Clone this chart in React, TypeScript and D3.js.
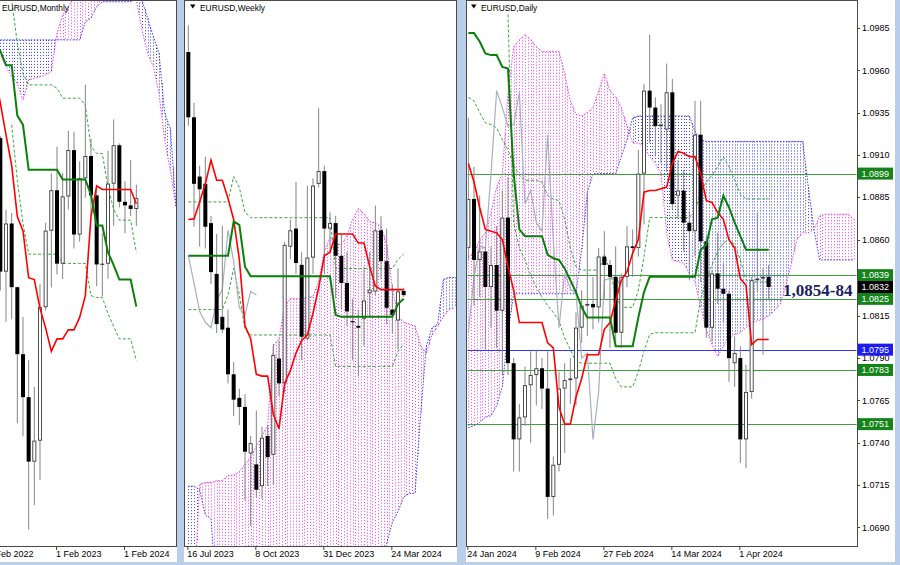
import React from "react";
import * as d3 from "d3";

// ================= MONTHLY (index 0 = Apr 2022) =================
const monthlyDates = [
  { i: -2, label: "1 Feb 2022" },
  { i: 10, label: "1 Feb 2023" },
  { i: 22, label: "1 Feb 2024" },
];
const monthlyCandles = [
  [1.1067, 1.1076, 1.0471, 1.0545], [1.0545, 1.0787, 1.0349, 1.0733], [1.0733, 1.0774, 1.0359, 1.0484],
  [1.0484, 1.0486, 0.9952, 1.0222], [1.0222, 1.0368, 0.9901, 1.0054], [1.0054, 1.0198, 0.9536, 0.9802],
  [0.9802, 1.0094, 0.9632, 0.9884], [0.9884, 1.0497, 0.973, 1.0406], [1.0406, 1.0736, 1.0393, 1.0705],
  [1.0705, 1.0929, 1.0483, 1.0863], [1.0863, 1.1033, 1.0533, 1.0576], [1.0576, 1.093, 1.0516, 1.0839],
  [1.0839, 1.1095, 1.0788, 1.102], [1.102, 1.1092, 1.0635, 1.069], [1.069, 1.0976, 1.0662, 1.091],
  [1.091, 1.1276, 1.0834, 1.0997], [1.0997, 1.1065, 1.0765, 1.0843], [1.0843, 1.0882, 1.0488, 1.0573],
  [1.0573, 1.0695, 1.0448, 1.0576], [1.0576, 1.1017, 1.0517, 1.0889], [1.0889, 1.114, 1.0724, 1.1039],
  [1.1039, 1.1046, 1.0796, 1.0818], [1.0818, 1.0898, 1.0695, 1.0804], [1.0804, 1.0981, 1.0762, 1.079],
  [1.079, 1.0885, 1.0723, 1.0832],
];
const monthlyTenkan = [ // from index -1
  1.1323, 1.1204, 1.108, 1.096, 1.076, 1.0704, 1.0521, 1.0514, 1.0401, 1.0324, 1.0233, 1.0282, 1.0282,
  1.0317, 1.0317, 1.0366, 1.0451, 1.076, 1.088, 1.0866, 1.0866, 1.0866, 1.0866, 1.0866, 1.0866, 1.081,
];
const monthlyKijun = [ // from index -1
  1.1436, 1.1408, 1.1352, 1.1352, 1.1155, 1.1119, 1.0943, 1.0943, 1.0943, 1.0943, 1.0943, 1.0943,
  1.0905, 1.0905, 1.0905, 1.0905, 1.0905, 1.0845, 1.0725, 1.0725, 1.062, 1.057, 1.0514, 1.0514, 1.0514, 1.0408,
];
const monthlySpanA = [ // from index -1
  1.1411, 1.1392, 1.1346, 1.1307, 1.1281, 1.1216, 1.1294, 1.1301, 1.1307, 1.1314, 1.1327, 1.1477, 1.1548,
  1.1581, 1.162, 1.1646, 1.1659, 1.1672, 1.1672, 1.1672, 1.1672, 1.1672, 1.1672, 1.1672, 1.1672,
  1.1607, 1.149, 1.1398, 1.1346, 1.1242, 1.106, 1.0942, 1.0799,
];
const monthlySpanB = [ // from index -1
  1.1451, 1.1451, 1.1451, 1.1451, 1.1451, 1.1451, 1.1451, 1.1451, 1.1451, 1.1451, 1.1451, 1.1451, 1.1451,
  1.1451, 1.1451, 1.1451, 1.1522, 1.1535, 1.1581, 1.16, 1.16, 1.16, 1.16, 1.16, 1.16,
  1.1633, 1.1607, 1.1535, 1.1464, 1.1398, 1.1164, 1.1105, 1.0799,
];
const monthlyDashUpper = [ // from index 1
  1.175, 1.1607, 1.1438, 1.132, 1.1275, 1.1275, 1.1275, 1.1275, 1.1275, 1.1262, 1.1223, 1.1223, 1.1223,
  1.1223, 1.1196, 1.1034, 1.1007, 1.1007, 1.0873, 1.0789, 1.0746, 1.0746, 1.0746, 1.062,
];
const monthlyDashLower = [ // from index 2
  1.1119, 1.0901, 1.0732, 1.0613, 1.0613, 1.0613, 1.0613, 1.0613, 1.0613, 1.0577, 1.0577, 1.0577, 1.0577,
  1.0577, 1.0451, 1.0444, 1.0444, 1.038, 1.0331, 1.0282, 1.0282, 1.0282, 1.0197,
];

// ================= WEEKLY (index 0 = 16 Jul 2023) =================
const weeklyDates = [
  { i: 0, label: "16 Jul 2023" },
  { i: 12, label: "8 Oct 2023" },
  { i: 24, label: "31 Dec 2023" },
  { i: 36, label: "24 Mar 2024" },
];
const weeklyCandles = [
  [1.1232, 1.1276, 1.111, 1.1124], [1.1124, 1.1148, 1.0943, 1.1014], [1.1026, 1.1044, 1.091, 1.1005],
  [1.1014, 1.1059, 1.0907, 1.0943], [1.0949, 1.0961, 1.0848, 1.0868], [1.0865, 1.0931, 1.0767, 1.0782],
  [1.0794, 1.0945, 1.0767, 1.0773], [1.0776, 1.0806, 1.0684, 1.0699], [1.0699, 1.0719, 1.063, 1.0657],
  [1.066, 1.0675, 1.0615, 1.0645], [1.0645, 1.0666, 1.049, 1.0571], [1.0568, 1.0597, 1.0448, 1.0585],
  [1.055, 1.0639, 1.0496, 1.0508], [1.0514, 1.0612, 1.0493, 1.0594], [1.0597, 1.0615, 1.0514, 1.0562],
  [1.0566, 1.0749, 1.0517, 1.0731], [1.0725, 1.0755, 1.0663, 1.0684], [1.0684, 1.0918, 1.0669, 1.0913],
  [1.091, 1.0955, 1.0889, 1.0937], [1.094, 1.1017, 1.0865, 1.0883], [1.088, 1.0901, 1.0722, 1.0761],
  [1.0758, 1.1011, 1.0755, 1.0892], [1.0892, 1.1023, 1.0865, 1.1011], [1.1014, 1.1139, 1.1008, 1.1035],
  [1.1035, 1.1044, 1.0865, 1.094], [1.094, 1.0967, 1.0901, 1.0949], [1.0949, 1.0961, 1.0824, 1.0895],
  [1.0895, 1.0931, 1.0806, 1.085], [1.085, 1.0901, 1.0779, 1.0803], [1.0787, 1.0824, 1.0722, 1.0785],
  [1.0779, 1.0806, 1.0696, 1.0776], [1.0791, 1.0877, 1.0746, 1.0821], [1.0833, 1.0901, 1.0794, 1.0839],
  [1.0836, 1.0978, 1.083, 1.0937], [1.0937, 1.0961, 1.0856, 1.0886], [1.0886, 1.094, 1.0782, 1.0809],
  [1.0806, 1.0848, 1.0767, 1.0797], [1.0788, 1.0874, 1.074, 1.0836], [1.0837, 1.0842, 1.0827, 1.083],
];
const weeklyTenkan = [
  1.0955, 1.0956, 1.0984, 1.1014, 1.1053, 1.102, 1.102, 1.099, 1.0955, 1.0889, 1.0779, 1.0758, 1.0699,
  1.0696, 1.0696, 1.0633, 1.0609, 1.0684, 1.0705, 1.0734, 1.0755, 1.0764, 1.08, 1.0842, 1.0895, 1.0901,
  1.0931, 1.0931, 1.0931, 1.0931, 1.0916, 1.0916, 1.0877, 1.0845, 1.0839, 1.0839, 1.0839, 1.0839, 1.0839,
];
const weeklyKijun = [
  1.0895, 1.0895, 1.0895, 1.0895, 1.0895, 1.0895, 1.0895, 1.0895, 1.0952, 1.0946, 1.0877,
  1.0861, 1.0861, 1.0861, 1.0861, 1.0861, 1.0861, 1.0861, 1.0861, 1.0861, 1.0861, 1.0861, 1.0861, 1.0861,
  1.0861, 1.0861, 1.0797, 1.0794, 1.0794, 1.0794, 1.0794, 1.0794, 1.0794, 1.0794, 1.0794, 1.0794, 1.0794,
  1.0815, 1.0824,
];
const weeklyChikou = [1.0895, 1.085, 1.0803, 1.0785, 1.0776, 1.0821, 1.0839, 1.0937, 1.0886, 1.0809, 1.0797, 1.0836, 1.083];
const weeklySpanA = [
  1.033, 1.033, 1.0517, 1.052, 1.052, 1.0523, 1.0523, 1.0532, 1.0532, 1.0538, 1.055, 1.0562, 1.058, 1.0597,
  1.0615, 1.0746, 1.0758, 1.0812, 1.0824, 1.0824, 1.0824, 1.0827, 1.0827, 1.0854, 1.0901, 1.0925, 1.0916,
  1.0913, 1.0928, 1.0955, 1.0973, 1.0964, 1.0952, 1.0949, 1.0943, 1.0913, 1.0842, 1.0794, 1.0785, 1.0782,
  1.0779, 1.0746, 1.0734, 1.0764, 1.0779, 1.0794, 1.0806, 1.0809,
];
const weeklySpanB = [
  1.0514, 1.0514, 1.0508, 1.0466, 1.046, 1.033, 1.033, 1.033, 1.033, 1.033, 1.033, 1.033, 1.033, 1.033,
  1.033, 1.033, 1.033, 1.033, 1.033, 1.033, 1.033, 1.033, 1.033, 1.033, 1.033, 1.033, 1.033, 1.033, 1.033,
  1.033, 1.033, 1.033, 1.033, 1.033, 1.033, 1.0419, 1.0454, 1.0472, 1.0496, 1.0502, 1.0502, 1.0633, 1.0746,
  1.0776, 1.0782, 1.0856, 1.0859, 1.0859,
];
const weeklyDashUpper = [
  1.0984, 1.0984, 1.0984, 1.0984, 1.0984, 1.0984, 1.0984, 1.0984, 1.1026, 1.1008, 1.0967,
  1.0958, 1.0958, 1.0958, 1.0958, 1.0958, 1.0958, 1.0958, 1.0958, 1.0958, 1.0958, 1.0958, 1.0958, 1.0958,
  1.0958, 1.0958, 1.0874, 1.0874, 1.0874, 1.0874, 1.0874, 1.0874, 1.0874, 1.0874, 1.0874, 1.0874, 1.0874,
  1.0889, 1.0898,
];
const weeklyDashLower = [
  1.0806, 1.0806, 1.0806, 1.0806, 1.0806, 1.0806, 1.0806, 1.083, 1.0874, 1.083, 1.0773,
  1.0764, 1.0764, 1.0764, 1.0764, 1.0764, 1.0764, 1.0764, 1.0764, 1.0764, 1.0764, 1.0764, 1.0764, 1.0764,
  1.0764, 1.0764, 1.0712, 1.0712, 1.0712, 1.0712, 1.0712, 1.0712, 1.0712, 1.0712, 1.0712, 1.0712, 1.0712,
  1.0737, 1.0749,
];

// ================= DAILY (index 0 = 24 Jan 2024) =================
const dailyDates = [
  { i: 0, label: "24 Jan 2024" },
  { i: 12, label: "9 Feb 2024" },
  { i: 24, label: "27 Feb 2024" },
  { i: 36, label: "14 Mar 2024" },
  { i: 48, label: "1 Apr 2024" },
];
const dailyPriceTicks = [1.0985, 1.096, 1.0935, 1.091, 1.0885, 1.086, 1.0815, 1.079, 1.0765, 1.074, 1.0715, 1.069];
const dailyCandles = [
  [1.0855, 1.0932, 1.0848, 1.0884], [1.0884, 1.0903, 1.0821, 1.0848], [1.0848, 1.0886, 1.0826, 1.0853],
  [1.0853, 1.0856, 1.0795, 1.0832], [1.0832, 1.0856, 1.0808, 1.0845], [1.0845, 1.0868, 1.0796, 1.0818],
  [1.0818, 1.0889, 1.078, 1.0873], [1.0873, 1.0897, 1.078, 1.0787], [1.0787, 1.079, 1.0723, 1.0742],
  [1.0742, 1.0763, 1.0723, 1.0755], [1.0755, 1.0785, 1.075, 1.0774], [1.0774, 1.0794, 1.074, 1.078],
  [1.078, 1.0795, 1.0762, 1.0784], [1.0784, 1.079, 1.076, 1.0772], [1.0772, 1.0794, 1.0695, 1.0708],
  [1.0708, 1.0732, 1.0697, 1.0727], [1.0727, 1.0782, 1.0723, 1.0772], [1.0772, 1.0787, 1.0734, 1.0777],
  [1.0777, 1.079, 1.0763, 1.0778], [1.0778, 1.0817, 1.0762, 1.0808], [1.0808, 1.083, 1.0799, 1.0821],
  [1.0821, 1.0888, 1.0803, 1.0822], [1.0822, 1.0838, 1.0807, 1.082], [1.082, 1.0855, 1.0811, 1.085],
  [1.085, 1.0865, 1.0825, 1.0845], [1.0845, 1.0848, 1.0796, 1.0838], [1.0838, 1.0856, 1.0797, 1.0805],
  [1.0805, 1.084, 1.0796, 1.0838], [1.0838, 1.0868, 1.0832, 1.0856], [1.0856, 1.0866, 1.0838, 1.0855],
  [1.0855, 1.0913, 1.085, 1.0899], [1.0899, 1.0952, 1.0869, 1.0948], [1.0948, 1.0981, 1.0917, 1.0938],
  [1.0938, 1.0944, 1.0909, 1.0927], [1.0927, 1.094, 1.0905, 1.0928], [1.0925, 1.0964, 1.09, 1.0947],
  [1.0947, 1.0955, 1.0878, 1.0881], [1.0886, 1.0907, 1.0872, 1.0889], [1.0889, 1.0901, 1.0853, 1.087],
  [1.087, 1.0877, 1.0836, 1.0865], [1.0865, 1.0942, 1.085, 1.0922], [1.0922, 1.0942, 1.0835, 1.0859],
  [1.0859, 1.0862, 1.0802, 1.0808], [1.0808, 1.0842, 1.08, 1.084], [1.084, 1.0864, 1.0822, 1.0831],
  [1.0831, 1.0846, 1.0811, 1.0828], [1.0828, 1.083, 1.0776, 1.079], [1.0787, 1.0803, 1.0773, 1.0793],
  [1.079, 1.0797, 1.0728, 1.0742], [1.0742, 1.0786, 1.0725, 1.077], [1.077, 1.0838, 1.0766, 1.0836],
  [1.0836, 1.0876, 1.0829, 1.0837], [1.0837, 1.0843, 1.0792, 1.0838], [1.0838, 1.0845, 1.0825, 1.0832],
];
const dailyTenkan = [
  1.0905, 1.0894, 1.0879, 1.0866, 1.0865, 1.0864, 1.086, 1.0844, 1.083, 1.0811,
  1.0811, 1.0811, 1.0811, 1.0811, 1.0799, 1.0796, 1.0761, 1.0751, 1.0751, 1.0767,
  1.0778, 1.0792, 1.0792, 1.0792, 1.0807, 1.0811, 1.0824, 1.0836, 1.0841, 1.0852,
  1.086, 1.0888, 1.0889, 1.0889, 1.089, 1.0891, 1.0905, 1.0912, 1.0911, 1.0909,
  1.0909, 1.0899, 1.0883, 1.0882, 1.0876, 1.0872, 1.086, 1.0855, 1.0837, 1.0833,
  1.0798, 1.0801, 1.0801, 1.0801,
];
const dailyKijun = [
  1.0982, 1.0982, 1.0977, 1.097, 1.0969, 1.0969, 1.0962, 1.0961, 1.0899, 1.0866,
  1.0862, 1.0862, 1.0862, 1.0862, 1.0851, 1.0849, 1.0848, 1.0843, 1.0836, 1.0829,
  1.082, 1.0814, 1.0814, 1.0814, 1.0814, 1.0814, 1.0797, 1.0797, 1.0797, 1.0797,
  1.0814, 1.0829, 1.0838, 1.0838, 1.0838, 1.0838, 1.0838, 1.0838, 1.0838, 1.0838,
  1.0838, 1.0854, 1.0857, 1.0872, 1.0873, 1.0886, 1.0879, 1.087, 1.0862, 1.0854,
  1.0854, 1.0854, 1.0854, 1.0854,
];
const dailyChikou = [
  1.0805, 1.0838, 1.0856, 1.0855, 1.0899, 1.0948, 1.0938, 1.0927, 1.0928, 1.0947, 1.0881, 1.0889, 1.087,
  1.0865, 1.0922, 1.0859, 1.0808, 1.084, 1.0831, 1.0828, 1.079, 1.0793, 1.0742, 1.077, 1.0836, 1.0837,
  1.0838, 1.0832,
];
const dailySpanA = [
  1.085, 1.0852, 1.086, 1.0864, 1.0876, 1.0891, 1.0899, 1.0946, 1.0974, 1.0978,
  1.0981, 1.0978, 1.0974, 1.0971, 1.0971, 1.0971, 1.0971, 1.0958, 1.0942, 1.0934,
  1.0933, 1.0935, 1.0938, 1.0948, 1.0958, 1.0948, 1.0944, 1.0938, 1.0927, 1.0917,
  1.0917, 1.0915, 1.0909, 1.0905, 1.0899, 1.0864, 1.0848, 1.0847, 1.0846, 1.084,
  1.0835, 1.082, 1.0807, 1.0798, 1.0791, 1.0797, 1.0802, 1.0804, 1.0805, 1.0808,
  1.0811, 1.0812, 1.0813, 1.0815, 1.0818, 1.0822, 1.0832, 1.0846, 1.086, 1.0864,
  1.0864, 1.0866, 1.0874, 1.0875, 1.0875, 1.0875, 1.0875, 1.0875, 1.0872,
];
const dailySpanB = [
  1.0749, 1.075, 1.0752, 1.0755, 1.0756, 1.0762, 1.0773, 1.0805, 1.0828, 1.0828,
  1.0828, 1.0828, 1.0828, 1.0828, 1.0828, 1.0828, 1.0828, 1.0828, 1.0828, 1.0828,
  1.0854, 1.0888, 1.0899, 1.0899, 1.0899, 1.0899, 1.0899, 1.0909, 1.0919, 1.0932,
  1.0933, 1.0933, 1.0933, 1.0933, 1.0933, 1.0933, 1.0933, 1.0933, 1.0933, 1.0933,
  1.0924, 1.0919, 1.0918, 1.0918, 1.0918, 1.0918, 1.0918, 1.0918, 1.0918, 1.0918,
  1.0918, 1.0918, 1.0918, 1.0918, 1.0918, 1.0918, 1.0918, 1.0918, 1.0918, 1.0918,
  1.0891, 1.0866, 1.0848, 1.0848, 1.0848, 1.0848, 1.0848, 1.0848, 1.0848,
];
const dailyDashUpper = [
  1.0944, 1.0942, 1.0935, 1.0929, 1.0928, 1.0926, 1.0919, 1.0913, 1.0904, 1.0898,
  1.0895, 1.0895, 1.0895, 1.0894, 1.0886, 1.0884, 1.0883, 1.0872, 1.0855, 1.0844,
  1.0842, 1.0842, 1.0842, 1.0842, 1.0851, 1.0842, 1.0827, 1.082, 1.082, 1.082,
  1.083, 1.085, 1.0873, 1.0873, 1.0873, 1.0873, 1.0873, 1.0873, 1.0873, 1.0873,
  1.0877, 1.0888, 1.0894, 1.0898, 1.0903, 1.0909, 1.0903, 1.0895, 1.0887, 1.0884,
  1.0884, 1.0884, 1.0884, 1.0884,
];
const dailyDashLower = [ // from index 7
  1.0993, 1.087, 1.0855,
  1.0848, 1.0839, 1.0832, 1.0826, 1.0821, 1.0817, 1.0812, 1.0802, 1.0795, 1.0788,
  1.0787, 1.0787, 1.0787, 1.0787, 1.0787, 1.0787, 1.0778, 1.0773, 1.0773, 1.0773,
  1.0782, 1.0794, 1.0804, 1.0805, 1.0805, 1.0805, 1.0805, 1.0805, 1.0805, 1.0805,
  1.0805, 1.0825, 1.0836, 1.0845, 1.0853, 1.0858, 1.086, 1.0857, 1.0848, 1.0836,
  1.0835, 1.0835, 1.0835, 1.0835,
];
const dailyLevels = [
  { v: 1.0899, kind: "green" },
  { v: 1.0839, kind: "green" },
  { v: 1.0825, kind: "green" },
  { v: 1.0795, kind: "blue" },
  { v: 1.0783, kind: "green" },
  { v: 1.0751, kind: "green" },
];
const dailyBid = 1.0832;
const annotationText = "1,0854-84";

// ================= layout & style =================
const FONT = "'Liberation Sans', Arial, sans-serif";
const PINK = "#f23cf2";
const BLUE = "#3a3af6";
const RED = "#ff0000";
const KIJUN = "#0a800a";
const DASH_GREEN = "#38a838";
const CHIKOU = "#a7afbf";
const AXIS_Y = 546;

const mX = d3.scaleLinear().domain([0, 24]).range([0.33, 136.33]);
const mY = d3.scaleLinear().domain([1.1607, 0.9472]).range([0, 546]);
const wX = d3.scaleLinear().domain([0, 36]).range([188.33, 392.33]);
const wY = d3.scaleLinear().domain([1.1318, 1.0415]).range([0, 546]);
const dX = d3.scaleLinear().domain([0, 48]).range([468.33, 740.33]);
const dY = d3.scaleLinear().domain([1.0985, 1.069]).range([28, 527.4]);

type Sc = d3.ScaleLinear<number, number>;

function seriesPath(values: number[], start: number, x: Sc, y: Sc) {
  return (
    d3
      .line<number>()
      .x((_, k) => x(start + k))
      .y((v) => y(v))(values) || ""
  );
}

interface PanelProps {
  clipId: string;
  x: Sc;
  y: Sc;
  candles: number[][];
  tenkan: number[];
  tenkanStart: number;
  kijun: number[];
  kijunStart: number;
  chikou?: number[];
  chikouStart?: number;
  spanA: number[];
  spanB: number[];
  spanStart: number;
  dashUp: number[];
  dashUpStart: number;
  dashLo: number[];
  dashLoStart: number;
  under?: React.ReactNode;
}

// cloud body: vertical dotted strokes between the two span lines (two strokes per bar, like the hatch)
function cloudColumns(p: PanelProps) {
  const { x, y } = p;
  const out: React.ReactNode[] = [];
  const n = p.spanA.length;
  for (let k = 0; k < n; k++) {
    const steps = k < n - 1 ? [0, 0.5] : [0];
    for (const f of steps) {
      const a = f === 0 ? p.spanA[k] : (p.spanA[k] + p.spanA[k + 1]) / 2;
      const b = f === 0 ? p.spanB[k] : (p.spanB[k] + p.spanB[k + 1]) / 2;
      const xi = Math.round(x(p.spanStart + k + f)) + 0.5;
      out.push(
        <line
          key={`c${k}_${f}`}
          x1={xi}
          x2={xi}
          y1={y(Math.max(a, b))}
          y2={y(Math.min(a, b))}
          stroke={a >= b ? PINK : BLUE}
          strokeWidth={1}
          strokeDasharray="1 2"
        />
      );
    }
  }
  return out;
}

function IchimokuPanel(p: PanelProps) {
  const { x, y } = p;
  return (
    <g clipPath={`url(#${p.clipId})`}>
      {cloudColumns(p)}
      <path d={seriesPath(p.spanA, p.spanStart, x, y)} fill="none" stroke={PINK} strokeWidth={1} strokeDasharray="1.5 1.5" />
      <path d={seriesPath(p.spanB, p.spanStart, x, y)} fill="none" stroke={BLUE} strokeWidth={1} strokeDasharray="1.5 1.5" />
      {p.under}
      <path d={seriesPath(p.dashUp, p.dashUpStart, x, y)} fill="none" stroke={DASH_GREEN} strokeWidth={1} strokeDasharray="3 2" />
      <path d={seriesPath(p.dashLo, p.dashLoStart, x, y)} fill="none" stroke={DASH_GREEN} strokeWidth={1} strokeDasharray="3 2" />
      {p.chikou && (
        <path d={seriesPath(p.chikou, p.chikouStart || 0, x, y)} fill="none" stroke={CHIKOU} strokeWidth={1.2} />
      )}
      {p.candles.map(([o, h, l, c], k) => {
        const cx = x(k);
        const top = y(Math.max(o, c));
        const bot = y(Math.min(o, c));
        const hgt = Math.max(bot - top, 1.2);
        const bull = c >= o;
        return (
          <g key={"k" + k}>
            <line x1={cx} x2={cx} y1={y(h)} y2={y(l)} stroke="#858585" strokeWidth={1} />
            <rect x={cx - 2} y={top} width={4} height={hgt} fill={bull ? "#3c3c3c" : "#000"} />
            {bull && hgt > 2 && <rect x={cx - 1.1} y={top + 0.9} width={2.2} height={hgt - 1.8} fill="#fff" />}
          </g>
        );
      })}
      <path d={seriesPath(p.tenkan, p.tenkanStart, x, y)} fill="none" stroke={RED} strokeWidth={1.6} />
      <path d={seriesPath(p.kijun, p.kijunStart, x, y)} fill="none" stroke={KIJUN} strokeWidth={2} />
    </g>
  );
}

function DateAxis({ ticks, x }: { ticks: { i: number; label: string }[]; x: Sc }) {
  return (
    <g>
      {ticks.map((t) => (
        <g key={t.label}>
          <line x1={x(t.i) - 0.5} x2={x(t.i) - 0.5} y1={AXIS_Y} y2={AXIS_Y + 4} stroke="#444" strokeWidth={1} />
          <text x={x(t.i) - 1} y={557} fontFamily={FONT} fontSize={9} fill="#000">
            {t.label}
          </text>
        </g>
      ))}
    </g>
  );
}

function Title({ x, text, triangle }: { x: number; text: string; triangle: boolean }) {
  return (
    <g>
      {triangle && <path d={`M${x - 10},4.5 L${x - 4.5},4.5 L${x - 7.25},8.5 Z`} fill="#000" />}
      <text x={x} y={11} fontFamily={FONT} fontSize={8.4} fill="#000">
        {text}
      </text>
    </g>
  );
}

export default function App() {
  const levelLines = (
    <g shapeRendering="crispEdges">
      {dailyLevels.map((l) => (
        <line
          key={l.v}
          x1={467}
          x2={857}
          y1={Math.round(dY(l.v)) + 0.5}
          y2={Math.round(dY(l.v)) + 0.5}
          stroke={l.kind === "blue" ? "#3434ff" : "#3f9f3f"}
          strokeWidth={1}
        />
      ))}
    </g>
  );

  return (
    <svg
      width={900}
      height={565}
      viewBox="0 0 900 565"
      style={{ position: "absolute", left: 0, top: 0, display: "block" }}
    >
      <defs>
        <clipPath id="clipM">
          <rect x={0} y={1} width={176} height={AXIS_Y - 1} />
        </clipPath>
        <clipPath id="clipW">
          <rect x={185} y={1} width={271} height={AXIS_Y - 1} />
        </clipPath>
        <clipPath id="clipD">
          <rect x={467.5} y={1} width={389} height={AXIS_Y - 1} />
        </clipPath>
        <clipPath id="clipMAxis">
          <rect x={0} y={AXIS_Y} width={177} height={18} />
        </clipPath>
      </defs>

      <rect x={0} y={0} width={900} height={565} fill="#b9cfe9" />
      <rect x={0} y={0} width={177} height={562} fill="#fff" />
      <rect x={184} y={0} width={273} height={562} fill="#fff" />
      <rect x={466} y={0} width={429} height={562} fill="#fff" />

      {/* Monthly */}
      <IchimokuPanel
        clipId="clipM"
        x={mX}
        y={mY}
        candles={monthlyCandles}
        tenkan={monthlyTenkan}
        tenkanStart={-1}
        kijun={monthlyKijun}
        kijunStart={-1}
        spanA={monthlySpanA}
        spanB={monthlySpanB}
        spanStart={-1}
        dashUp={monthlyDashUpper}
        dashUpStart={1}
        dashLo={monthlyDashLower}
        dashLoStart={2}
      />
      {/* Weekly */}
      <IchimokuPanel
        clipId="clipW"
        x={wX}
        y={wY}
        candles={weeklyCandles}
        tenkan={weeklyTenkan}
        tenkanStart={0}
        kijun={weeklyKijun}
        kijunStart={0}
        chikou={weeklyChikou}
        chikouStart={0}
        spanA={weeklySpanA}
        spanB={weeklySpanB}
        spanStart={0}
        dashUp={weeklyDashUpper}
        dashUpStart={0}
        dashLo={weeklyDashLower}
        dashLoStart={0}
      />
      {/* Daily */}
      <IchimokuPanel
        clipId="clipD"
        x={dX}
        y={dY}
        candles={dailyCandles}
        tenkan={dailyTenkan}
        tenkanStart={0}
        kijun={dailyKijun}
        kijunStart={0}
        chikou={dailyChikou}
        chikouStart={0}
        spanA={dailySpanA}
        spanB={dailySpanB}
        spanStart={0}
        dashUp={dailyDashUpper}
        dashUpStart={0}
        dashLo={dailyDashLower}
        dashLoStart={7}
        under={levelLines}
      />

      {/* frames */}
      <g fill="none" stroke="#4a4a4a" strokeWidth={1} shapeRendering="crispEdges">
        <path d={`M0,0.5 H176.5 V${AXIS_Y + 0.5} H0`} />
        <rect x={184.5} y={0.5} width={272} height={AXIS_Y} />
        <rect x={466.5} y={0.5} width={390.5} height={AXIS_Y} />
      </g>

      <Title x={2} text="EURUSD,Monthly" triangle={false} />
      <Title x={200} text="EURUSD,Weekly" triangle={true} />
      <Title x={481} text="EURUSD,Daily" triangle={true} />

      <g clipPath="url(#clipMAxis)">
        <DateAxis ticks={monthlyDates} x={mX} />
      </g>
      <DateAxis ticks={weeklyDates} x={wX} />
      <DateAxis ticks={dailyDates} x={dX} />

      {/* daily price axis */}
      <g>
        {dailyPriceTicks.map((v) => (
          <g key={v}>
            <line x1={857} x2={860} y1={Math.round(dY(v)) + 0.5} y2={Math.round(dY(v)) + 0.5} stroke="#444" shapeRendering="crispEdges" />
            <text x={862} y={dY(v) + 3.2} fontFamily={FONT} fontSize={9} fill="#000">
              {v.toFixed(4)}
            </text>
          </g>
        ))}
        {dailyLevels.map((l) => (
          <g key={"b" + l.v}>
            <rect x={858} y={dY(l.v) - 6} width={35} height={12} fill={l.kind === "blue" ? "#1c1cf0" : "#14841a"} />
            <text x={861.5} y={dY(l.v) + 3.3} fontFamily={FONT} fontSize={9} fill="#fff">
              {l.v.toFixed(4)}
            </text>
          </g>
        ))}
        <rect x={858} y={dY(dailyBid) - 6} width={35} height={12} fill="#000" />
        <text x={861.5} y={dY(dailyBid) + 3.3} fontFamily={FONT} fontSize={9} fill="#fff">
          {dailyBid.toFixed(4)}
        </text>
      </g>

      <text
        x={783}
        y={296}
        fontFamily="'Liberation Serif', 'Times New Roman', serif"
        fontWeight="bold"
        fontSize={17}
        fill="#1b1f5e"
      >
        {annotationText}
      </text>
    </svg>
  );
}
